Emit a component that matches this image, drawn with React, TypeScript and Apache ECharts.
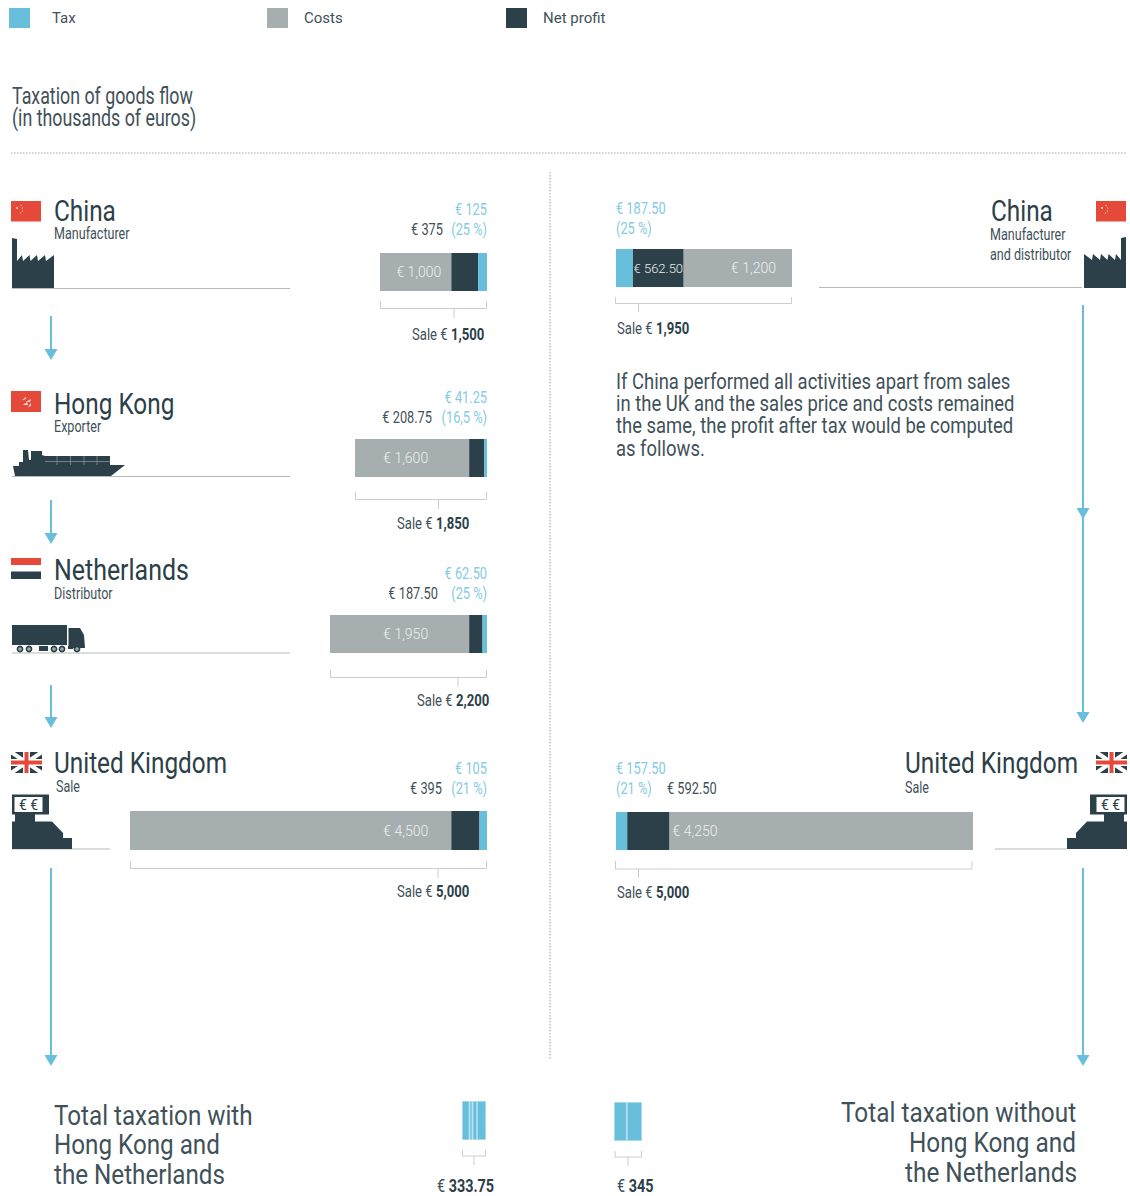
import React, { useEffect, useRef } from "react";
import * as echarts from "echarts";

// Values in euros; each stage adds costs, net profit and tax up to its sale price.
const leftStages = ["China", "Hong Kong", "Netherlands", "United Kingdom"];
const leftCosts = [1000, 1600, 1950, 4500];
const leftProfit = [375, 208.75, 187.5, 395];
const leftTax = [125, 41.25, 62.5, 105];
const leftSale = [1500, 1850, 2200, 5000];
const leftRates = ["25 %", "16,5 %", "25 %", "21 %"];

const rightStages = ["China", "United Kingdom"];
const rightCosts = [1200, 4250];
const rightProfit = [562.5, 592.5];
const rightTax = [187.5, 157.5];
const rightSale = [1950, 5000];
const rightRates = ["25 %", "21 %"];

const totalWithParts = [105, 41.25, 62.5, 125];
const totalWithoutParts = [157.5, 187.5];
const totalWith = 333.75;
const totalWithout = 345;

const paragraph = [
  "If China performed all activities apart from sales",
  "in the UK and the sales price and costs remained",
  "the same, the profit after tax would be computed",
  "as follows.",
];

const TAX = "#68bfdc";
const COST = "#a6aeb0";
const DARK = "#2b4048";
const INK = "#3f5159";
const SKY = "#84cbe3";
const RULE = "#b4b9bb";
const BRACKET = "#c9cdcf";
const RED = "#e5493a";
const FONT = "Roboto, sans-serif";

// Placement of the stacked bars on the page.
const leftBoxes = [
  { x: 380, y: 253, w: 107, h: 38, gap: 10 },
  { x: 355, y: 439, w: 132, h: 38, gap: 41 },
  { x: 330, y: 615, w: 157, h: 38, gap: 41 },
  { x: 130, y: 811, w: 357, h: 39, gap: 23 },
];
const rightBoxes = [
  { x: 616, y: 249, w: 176, h: 38, gap: 16 },
  { x: 616, y: 812, w: 357, h: 38, gap: 3 },
];

const euro = (v: number) =>
  "€ " +
  v.toLocaleString("en-US", {
    minimumFractionDigits: Number.isInteger(v) ? 0 : 2,
    maximumFractionDigits: 2,
  });

type G = Record<string, any>;

// Text set narrow through a horizontal scale; the anchor stays at x.
const txt = (
  x: number,
  y: number,
  text: string,
  size: number,
  narrow = 0.82,
  fill = INK,
  align = "left",
  weight: string | number = "normal",
): G => ({
  type: "text",
  x,
  y,
  scaleX: narrow,
  silent: true,
  style: { text, fontSize: size, fontFamily: FONT, fill, align, verticalAlign: "middle", fontWeight: weight },
});

const saleTxt = (x: number, y: number, prefix: string, value: string, size = 16, narrow = 0.82): G => ({
  type: "text",
  x,
  y,
  scaleX: narrow,
  silent: true,
  style: {
    text: `{a|${prefix}}{b|${value}}`,
    verticalAlign: "middle",
    rich: {
      a: { fontSize: size, fontFamily: FONT, fill: INK },
      b: { fontSize: size, fontFamily: FONT, fill: DARK, fontWeight: "bold" },
    },
  },
});

const line = (x1: number, y1: number, x2: number, y2: number, stroke: string, lineWidth = 1, dash?: number[]): G => ({
  type: "line",
  silent: true,
  shape: { x1, y1, x2, y2 },
  style: { stroke, lineWidth, lineDash: dash },
});

const box = (x: number, y: number, width: number, height: number, fill: string): G => ({
  type: "rect",
  silent: true,
  shape: { x, y, width, height },
  style: { fill },
});

const dot = (cx: number, cy: number, r: number, fill: string, stroke?: string, lineWidth = 0): G => ({
  type: "circle",
  silent: true,
  shape: { cx, cy, r },
  style: { fill, stroke, lineWidth },
});

const poly = (points: number[][], fill: string): G => ({
  type: "polygon",
  silent: true,
  shape: { points },
  style: { fill },
});

const bracket = (x1: number, x2: number, top: number, bottom: number): G => ({
  type: "polyline",
  silent: true,
  shape: { points: [[x1, top], [x1, bottom], [x2, bottom], [x2, top]] },
  style: { stroke: BRACKET, lineWidth: 1, fill: "none" },
});

const stem = (x: number, y1: number, y2: number) => line(x, y1, x, y2, BRACKET, 1);

const arrow = (x: number, y1: number, y2: number): G[] => [
  line(x, y1, x, y2 - 8, TAX, 2),
  poly([[x - 6.5, y2 - 11], [x + 6.5, y2 - 11], [x, y2]], TAX),
];

const chinaFlag = (x: number, y: number): G[] => [
  box(x, y, 30, 20.5, RED),
  dot(x + 6, y + 7, 1.1, "#f6c9bf"),
  dot(x + 10, y + 4.5, 0.6, "#f6c9bf"),
  dot(x + 11.5, y + 7, 0.6, "#f6c9bf"),
  dot(x + 11.5, y + 10, 0.6, "#f6c9bf"),
  dot(x + 9.5, y + 12, 0.6, "#f6c9bf"),
];

const ukFlag = (x: number, y: number): G[] => [
  box(x, y, 31, 21, DARK),
  line(x, y, x + 31, y + 21, "#fff", 4),
  line(x + 31, y, x, y + 21, "#fff", 4),
  box(x + 12, y, 7, 21, "#fff"),
  box(x, y + 7, 31, 7, "#fff"),
  box(x + 13.5, y, 4, 21, RED),
  box(x, y + 8.5, 31, 4, RED),
];

// Outline of the factory, flipped for the right-hand column.
const factoryShape = [
  [12, 238], [17, 239], [17, 261], [22, 255], [23, 261], [29.5, 255], [30.5, 261], [37, 255], [38, 261],
  [45, 255], [46, 261], [54, 255], [54, 289], [12, 289],
];

const registerParts = (flip: (x: number) => number): G[] => {
  const p = (pts: number[][]) => pts.map(([x, y]) => [flip(x), y]);
  const left = Math.min(flip(12), flip(49));
  const inner = Math.min(flip(14.5), flip(42.5));
  return [
    box(left, 794.5, 37, 20, DARK),
    box(inner, 797, 28, 15, "#fff"),
    txt(inner + 14, 805, "€ €", 14, 1, DARK, "center"),
    poly(p([[15, 814], [35, 814], [35, 821.5], [52, 821.5], [63, 833], [63, 838], [72, 838], [72, 849], [12, 849], [12, 821.5], [15, 821.5]]), DARK),
  ];
};

const buildGraphics = (): G[] => {
  const g: G[] = [];

  // Heading and dotted rules
  g.push(txt(12, 96, "Taxation of goods flow", 23, 0.775));
  g.push(txt(12, 118, "(in thousands of euros)", 23, 0.775));
  g.push(line(11, 153, 1126, 153, "#9aa3a6", 1, [1.5, 1.5]));
  g.push(line(550, 172, 550, 1060, "#9aa3a6", 1, [1.5, 1.5]));

  // Left column: stage names
  g.push(...chinaFlag(11, 201));
  g.push(txt(54, 211, leftStages[0], 29, 0.84, DARK));
  g.push(txt(54, 234, "Manufacturer", 16, 0.785));
  g.push(poly(factoryShape, DARK));
  g.push(line(12, 288.5, 290, 288.5, RULE));

  g.push(box(11, 391, 30, 21, RED));
  g.push(poly([[22, 400], [26, 397], [26, 399]], "#fbe3dd"), poly([[26, 402], [31, 399], [30, 402]], "#fbe3dd"));
  g.push(poly([[23, 405], [27, 402], [28, 405]], "#fbe3dd"), poly([[28, 407], [31, 403], [31, 406]], "#fbe3dd"));
  g.push(txt(54, 404, leftStages[1], 29, 0.84, DARK));
  g.push(txt(54, 427, "Exporter", 16, 0.785));
  g.push(line(12, 476.5, 290, 476.5, RULE));
  g.push(
    poly(
      [[13, 466], [19, 466], [19, 462], [23, 462], [23, 450], [28, 450], [29, 460], [31, 460], [31, 451], [42, 451], [42, 455], [45, 456],
        [110, 456], [110, 465], [125, 465], [111, 476], [15, 476]],
      DARK,
    ),
  );
  [57, 70.5, 84, 97].forEach((x) => g.push(line(x, 456, x, 465, "#8e9ba0", 0.7)));
  g.push(line(45, 461.5, 110, 461.5, "#8e9ba0", 0.7));

  g.push(box(11, 558, 30, 7, RED), box(11, 571.5, 30, 7.5, DARK));
  g.push(txt(54, 570, leftStages[2], 29, 0.86, DARK));
  g.push(txt(54, 594, "Distributor", 16, 0.785));
  g.push(line(12, 653, 290, 653, RULE));
  g.push(box(12, 625, 55, 20, DARK));
  g.push(poly([[68.5, 628], [80, 628], [84, 635], [85, 648], [68.5, 648]], DARK));
  g.push(box(39, 646, 9, 5, DARK), box(68, 646, 5, 3, DARK));
  [20, 29, 54, 62, 77].forEach((x) => g.push(dot(x, 649, 2.6, "#9fa9ad", DARK, 1.6)));

  g.push(...ukFlag(11, 752));
  g.push(txt(54, 763, leftStages[3], 29, 0.84, DARK));
  g.push(txt(56, 787, "Sale", 16, 0.785));
  g.push(line(12, 849, 110, 849, RULE));
  g.push(...registerParts((x) => x));

  // Left column: arrows
  g.push(...arrow(51, 316, 360), ...arrow(51, 500, 544), ...arrow(51, 685, 728), ...arrow(51, 868, 1066));

  // Left column: figures above each bar
  const aboveY = [210, 398, 574, 769];
  const profitRight = [443, 432, 438, 442];
  leftTax.forEach((v, i) => {
    g.push(txt(487, aboveY[i], euro(v), 16, 0.8, SKY, "right"));
    g.push(txt(487, aboveY[i] + 20, `(${leftRates[i]})`, 16, 0.8, SKY, "right"));
    g.push(txt(profitRight[i], aboveY[i] + 20, euro(leftProfit[i]), 16, 0.8, INK, "right"));
  });

  // Left column: brackets and sale prices
  const bracketTop = [301, 492, 670, 861];
  const stemX = [454, 438.5, 458, 438];
  const saleX = [412, 397, 417, 397];
  const saleY = [335, 524, 701, 892];
  leftBoxes.forEach((b, i) => {
    g.push(bracket(b.x + 0.5, b.x + b.w - 0.5, bracketTop[i], bracketTop[i] + 7.5));
    g.push(stem(stemX[i], bracketTop[i] + 7.5, bracketTop[i] + 17));
    g.push(saleTxt(saleX[i], saleY[i], "Sale € ", leftSale[i].toLocaleString("en-US")));
  });

  // Right column: China
  g.push(...chinaFlag(1096, 201));
  g.push(txt(991, 211, rightStages[0], 29, 0.84, DARK));
  g.push(txt(990, 235, "Manufacturer", 16, 0.785));
  g.push(txt(990, 255, "and distributor", 16, 0.785));
  g.push(poly(factoryShape.map(([x, y]) => [1138 - x, y - 1]), DARK));
  g.push(line(819, 287.5, 1082, 287.5, RULE));
  g.push(txt(616, 209, euro(rightTax[0]), 16, 0.8, SKY));
  g.push(txt(616, 229, `(${rightRates[0]})`, 16, 0.8, SKY));
  g.push(bracket(615.5, 791.5, 297, 303.5), stem(638.5, 303.5, 312));
  g.push(saleTxt(617, 329, "Sale € ", rightSale[0].toLocaleString("en-US")));

  paragraph.forEach((t, i) => g.push(txt(616, 381 + i * 22.4, t, 22.5, 0.82)));

  // Right column: United Kingdom
  g.push(...ukFlag(1096, 752));
  g.push(txt(905, 763, rightStages[1], 29, 0.84, DARK));
  g.push(txt(905, 788, "Sale", 16, 0.785));
  g.push(line(995, 849, 1067, 849, RULE));
  g.push(...registerParts((x) => 1139 - x));
  g.push(txt(616, 769, euro(rightTax[1]), 16, 0.8, SKY));
  g.push(txt(616, 789, `(${rightRates[1]})`, 16, 0.8, SKY));
  g.push(txt(667, 789, euro(rightProfit[1]), 16, 0.8, INK));
  g.push(bracket(615.5, 972, 861, 869), stem(638.5, 869, 878));
  g.push(saleTxt(617, 893, "Sale € ", rightSale[1].toLocaleString("en-US")));

  // Right column: arrows
  g.push(line(1083, 305, 1083, 715, TAX, 2));
  g.push(poly([[1076.5, 508], [1089.5, 508], [1083, 519]], TAX));
  g.push(poly([[1076.5, 712], [1089.5, 712], [1083, 723]], TAX));
  g.push(...arrow(1083, 868, 1066));

  // Totals at the foot of the page
  ["Total taxation with", "Hong Kong and", "the Netherlands"].forEach((t, i) =>
    g.push(txt(54, [1115, 1144, 1174][i], t, 28, 0.865)),
  );
  [["Total taxation without", 841], ["Hong Kong and", 909], ["the Netherlands", 905]].forEach(([t, x], i) =>
    g.push(txt(x as number, [1112, 1142, 1172][i], t as string, 28, 0.87)),
  );
  g.push(bracket(462.5, 485.5, 1150, 1156), stem(474, 1156, 1165));
  g.push(bracket(615, 641.5, 1151, 1157), stem(628, 1157, 1166));
  g.push(saleTxt(437, 1186, "€ ", String(totalWith), 18, 0.8));
  g.push(saleTxt(617, 1186, "€ ", String(totalWithout), 18, 0.8));

  return g;
};

const buildOption = () => {
  const grid: G[] = [];
  const xAxis: G[] = [];
  const yAxis: G[] = [];
  const series: G[] = [];

  const addPanel = (
    box: { x: number; y: number; w: number; h: number },
    category: string,
    total: number,
    parts: { name: string; value: number; color: string; label?: G; border?: string }[],
  ) => {
    const idx = grid.length;
    grid.push({ left: box.x, top: box.y, width: box.w, height: box.h, containLabel: false });
    xAxis.push({ type: "value", gridIndex: idx, min: 0, max: total, show: false });
    yAxis.push({ type: "category", gridIndex: idx, data: [category], show: false });
    parts.forEach((p) => {
      series.push({
        type: "bar",
        name: p.name,
        xAxisIndex: idx,
        yAxisIndex: idx,
        stack: `panel${idx}`,
        barWidth: "100%",
        data: [p.value],
        silent: true,
        itemStyle: { color: p.color, borderColor: p.border, borderWidth: p.border ? 1 : 0 },
        label: p.label ?? { show: false },
      });
    });
  };

  const inBar = (position: string, distance: number, fontSize = 14) => ({
    show: true,
    position,
    distance,
    formatter: (o: any) => euro(o.value),
    fontFamily: FONT,
    fontSize,
    fontWeight: 300,
    color: "#eceeef",
  });

  leftBoxes.forEach((b, i) =>
    addPanel(b, leftStages[i], leftSale[i], [
      { name: "Costs", value: leftCosts[i], color: COST, label: inBar("insideRight", b.gap) },
      { name: "Net profit", value: leftProfit[i], color: DARK },
      { name: "Tax", value: leftTax[i], color: TAX },
    ]),
  );
  rightBoxes.forEach((b, i) =>
    addPanel(b, rightStages[i], rightSale[i], [
      { name: "Tax", value: rightTax[i], color: TAX },
      { name: "Net profit", value: rightProfit[i], color: DARK, label: i === 0 ? inBar("inside", 0, 13) : undefined },
      { name: "Costs", value: rightCosts[i], color: COST, label: i === 0 ? inBar("insideRight", b.gap) : inBar("insideLeft", b.gap) },
    ]),
  );
  addPanel(
    { x: 462, y: 1101, w: 24, h: 39 },
    "Total with",
    totalWith,
    totalWithParts.map((value) => ({ name: "Tax", value, color: TAX, border: "#a5d9ea" })),
  );
  addPanel(
    { x: 614, y: 1102, w: 28, h: 39 },
    "Total without",
    totalWithout,
    totalWithoutParts.map((value) => ({ name: "Tax", value, color: TAX, border: "#a5d9ea" })),
  );

  const legendAt = (name: string, left: number, textGap: number) => ({
    data: [name],
    left,
    top: 8,
    padding: 0,
    icon: "rect",
    itemWidth: 21,
    itemHeight: 20,
    selectedMode: false,
    textStyle: { fontFamily: FONT, fontSize: 15, color: INK, padding: [3, 0, 0, textGap] },
  });

  return {
    animation: false,
    backgroundColor: "#ffffff",
    legend: [legendAt("Tax", 9, 17), legendAt("Costs", 267, 11), legendAt("Net profit", 506, 11)],
    grid,
    xAxis,
    yAxis,
    series,
    graphic: { elements: buildGraphics() },
  };
};

export default function App() {
  const ref = useRef<HTMLDivElement>(null);

  useEffect(() => {
    document.body.style.margin = "0";
    const chart = echarts.init(ref.current!, undefined, { renderer: "svg" });
    chart.setOption(buildOption());
    return () => chart.dispose();
  }, []);

  return <div ref={ref} style={{ width: 1130, height: 1196 }} />;
}
